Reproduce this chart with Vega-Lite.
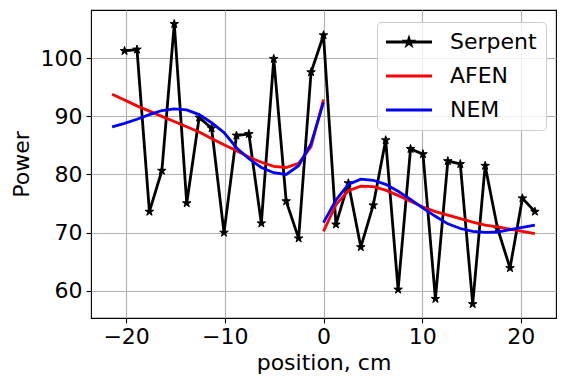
{
  "$schema": "https://vega.github.io/schema/vega-lite/v6.json",
  "width": 465,
  "height": 308,
  "autosize": {"type": "none"},
  "padding": {"left": 91, "top": 10, "right": 9, "bottom": 71},
  "background": "white",
  "datasets": {
    "serpent": [
      {"x": -20.16, "y": 101.26, "series": "Serpent"},
      {"x": -18.9, "y": 101.5, "series": "Serpent"},
      {"x": -17.64, "y": 73.6, "series": "Serpent"},
      {"x": -16.38, "y": 80.65, "series": "Serpent"},
      {"x": -15.12, "y": 105.9, "series": "Serpent"},
      {"x": -13.86, "y": 75.05, "series": "Serpent"},
      {"x": -12.6, "y": 89.8, "series": "Serpent"},
      {"x": -11.34, "y": 87.95, "series": "Serpent"},
      {"x": -10.08, "y": 70.0, "series": "Serpent"},
      {"x": -8.82, "y": 86.7, "series": "Serpent"},
      {"x": -7.56, "y": 86.97, "series": "Serpent"},
      {"x": -6.3, "y": 71.6, "series": "Serpent"},
      {"x": -5.04, "y": 99.9, "series": "Serpent"},
      {"x": -3.78, "y": 75.4, "series": "Serpent"},
      {"x": -2.52, "y": 69.0, "series": "Serpent"},
      {"x": -1.26, "y": 97.6, "series": "Serpent"},
      {"x": 0, "y": 103.96, "series": "Serpent"},
      {"x": 1.26, "y": 71.4, "series": "Serpent"},
      {"x": 2.52, "y": 78.5, "series": "Serpent"},
      {"x": 3.78, "y": 67.5, "series": "Serpent"},
      {"x": 5.04, "y": 74.7, "series": "Serpent"},
      {"x": 6.3, "y": 85.9, "series": "Serpent"},
      {"x": 7.56, "y": 60.2, "series": "Serpent"},
      {"x": 8.82, "y": 84.4, "series": "Serpent"},
      {"x": 10.08, "y": 83.5, "series": "Serpent"},
      {"x": 11.34, "y": 58.6, "series": "Serpent"},
      {"x": 12.6, "y": 82.3, "series": "Serpent"},
      {"x": 13.86, "y": 81.8, "series": "Serpent"},
      {"x": 15.12, "y": 57.7, "series": "Serpent"},
      {"x": 16.38, "y": 81.5, "series": "Serpent"},
      {"x": 17.64, "y": 70.7, "series": "Serpent"},
      {"x": 18.9, "y": 63.9, "series": "Serpent"},
      {"x": 20.16, "y": 75.9, "series": "Serpent"},
      {"x": 21.42, "y": 73.6, "series": "Serpent"}
    ],
    "models": [
      {"x": -21.42, "y": 93.8, "series": "AFEN", "seg": "L"},
      {"x": -20.16, "y": 92.8, "series": "AFEN", "seg": "L"},
      {"x": -18.9, "y": 91.8, "series": "AFEN", "seg": "L"},
      {"x": -17.64, "y": 90.9, "series": "AFEN", "seg": "L"},
      {"x": -16.38, "y": 90.0, "series": "AFEN", "seg": "L"},
      {"x": -15.12, "y": 89.1, "series": "AFEN", "seg": "L"},
      {"x": -13.86, "y": 88.2, "series": "AFEN", "seg": "L"},
      {"x": -12.6, "y": 87.3, "series": "AFEN", "seg": "L"},
      {"x": -11.34, "y": 86.2, "series": "AFEN", "seg": "L"},
      {"x": -10.08, "y": 85.1, "series": "AFEN", "seg": "L"},
      {"x": -8.82, "y": 84.1, "series": "AFEN", "seg": "L"},
      {"x": -7.56, "y": 83.0, "series": "AFEN", "seg": "L"},
      {"x": -6.3, "y": 82.1, "series": "AFEN", "seg": "L"},
      {"x": -5.04, "y": 81.4, "series": "AFEN", "seg": "L"},
      {"x": -3.78, "y": 81.2, "series": "AFEN", "seg": "L"},
      {"x": -2.52, "y": 81.9, "series": "AFEN", "seg": "L"},
      {"x": -1.26, "y": 84.8, "series": "AFEN", "seg": "L"},
      {"x": 0, "y": 92.9, "series": "AFEN", "seg": "L"},
      {"x": 0, "y": 70.2, "series": "AFEN", "seg": "R"},
      {"x": 1.26, "y": 74.8, "series": "AFEN", "seg": "R"},
      {"x": 2.52, "y": 77.2, "series": "AFEN", "seg": "R"},
      {"x": 3.78, "y": 78.0, "series": "AFEN", "seg": "R"},
      {"x": 5.04, "y": 77.9, "series": "AFEN", "seg": "R"},
      {"x": 6.3, "y": 77.3, "series": "AFEN", "seg": "R"},
      {"x": 7.56, "y": 76.4, "series": "AFEN", "seg": "R"},
      {"x": 8.82, "y": 75.4, "series": "AFEN", "seg": "R"},
      {"x": 10.08, "y": 74.4, "series": "AFEN", "seg": "R"},
      {"x": 11.34, "y": 73.6, "series": "AFEN", "seg": "R"},
      {"x": 12.6, "y": 73.0, "series": "AFEN", "seg": "R"},
      {"x": 13.86, "y": 72.4, "series": "AFEN", "seg": "R"},
      {"x": 15.12, "y": 71.8, "series": "AFEN", "seg": "R"},
      {"x": 16.38, "y": 71.3, "series": "AFEN", "seg": "R"},
      {"x": 17.64, "y": 71.0, "series": "AFEN", "seg": "R"},
      {"x": 18.9, "y": 70.6, "series": "AFEN", "seg": "R"},
      {"x": 20.16, "y": 70.2, "series": "AFEN", "seg": "R"},
      {"x": 21.42, "y": 69.8, "series": "AFEN", "seg": "R"},
      {"x": -21.42, "y": 88.2, "series": "NEM", "seg": "L"},
      {"x": -20.16, "y": 88.8, "series": "NEM", "seg": "L"},
      {"x": -18.9, "y": 89.5, "series": "NEM", "seg": "L"},
      {"x": -17.64, "y": 90.3, "series": "NEM", "seg": "L"},
      {"x": -16.38, "y": 91.0, "series": "NEM", "seg": "L"},
      {"x": -15.12, "y": 91.3, "series": "NEM", "seg": "L"},
      {"x": -13.86, "y": 91.1, "series": "NEM", "seg": "L"},
      {"x": -12.6, "y": 90.3, "series": "NEM", "seg": "L"},
      {"x": -11.34, "y": 88.9, "series": "NEM", "seg": "L"},
      {"x": -10.08, "y": 87.2, "series": "NEM", "seg": "L"},
      {"x": -8.82, "y": 84.6, "series": "NEM", "seg": "L"},
      {"x": -7.56, "y": 82.7, "series": "NEM", "seg": "L"},
      {"x": -6.3, "y": 81.2, "series": "NEM", "seg": "L"},
      {"x": -5.04, "y": 80.3, "series": "NEM", "seg": "L"},
      {"x": -3.78, "y": 80.0, "series": "NEM", "seg": "L"},
      {"x": -2.52, "y": 81.5, "series": "NEM", "seg": "L"},
      {"x": -1.26, "y": 85.3, "series": "NEM", "seg": "L"},
      {"x": 0, "y": 92.4, "series": "NEM", "seg": "L"},
      {"x": 0, "y": 71.7, "series": "NEM", "seg": "R"},
      {"x": 1.26, "y": 75.6, "series": "NEM", "seg": "R"},
      {"x": 2.52, "y": 78.3, "series": "NEM", "seg": "R"},
      {"x": 3.78, "y": 79.2, "series": "NEM", "seg": "R"},
      {"x": 5.04, "y": 79.0, "series": "NEM", "seg": "R"},
      {"x": 6.3, "y": 78.3, "series": "NEM", "seg": "R"},
      {"x": 7.56, "y": 77.1, "series": "NEM", "seg": "R"},
      {"x": 8.82, "y": 75.7, "series": "NEM", "seg": "R"},
      {"x": 10.08, "y": 74.2, "series": "NEM", "seg": "R"},
      {"x": 11.34, "y": 72.8, "series": "NEM", "seg": "R"},
      {"x": 12.6, "y": 71.5, "series": "NEM", "seg": "R"},
      {"x": 13.86, "y": 70.7, "series": "NEM", "seg": "R"},
      {"x": 15.12, "y": 70.2, "series": "NEM", "seg": "R"},
      {"x": 16.38, "y": 70.05, "series": "NEM", "seg": "R"},
      {"x": 17.64, "y": 70.1, "series": "NEM", "seg": "R"},
      {"x": 18.9, "y": 70.5, "series": "NEM", "seg": "R"},
      {"x": 20.16, "y": 70.9, "series": "NEM", "seg": "R"},
      {"x": 21.42, "y": 71.3, "series": "NEM", "seg": "R"}
    ]
  },
  "encoding": {
    "x": {
      "field": "x", "type": "quantitative",
      "scale": {"domain": [-23.56, 23.56], "nice": false, "zero": false},
      "axis": {"title": "position, cm", "values": [-20, -10, 0, 10, 20]}
    },
    "y": {
      "field": "y", "type": "quantitative",
      "scale": {"domain": [55.3, 108.3], "nice": false, "zero": false},
      "axis": {"title": "Power", "values": [60, 70, 80, 90, 100]}
    }
  },
  "layer": [
    {
      "data": {"name": "serpent"},
      "mark": {"type": "line", "strokeWidth": 2.8, "clip": true},
      "encoding": {
        "color": {
          "field": "series", "type": "nominal",
          "scale": {"domain": ["Serpent", "AFEN", "NEM"], "range": ["#000000", "#ff0000", "#0000ff"]},
          "legend": {
            "title": null,
            "orient": "none",
            "legendX": 286,
            "legendY": 12,
            "padding": 9,
            "rowPadding": 12,
            "fillColor": "rgba(255,255,255,0.8)",
            "strokeColor": "#cccccc",
            "cornerRadius": 4,
            "labelFontSize": 22,
            "labelFont": "DejaVu Sans",
            "labelColor": "black",
            "symbolSize": 339,
            "symbolStrokeWidth": 2.8,
            "symbolOffset": 12,
            "labelOffset": 30,
            "encode": {
              "symbols": {
                "update": {
                  "shape": {"signal": "datum.value === 'Serpent' ? 'M-2.5,0L2.5,0M0,-0.34L0.076,-0.105L0.323,-0.105L0.124,0.04L0.2,0.275L0,0.13L-0.2,0.275L-0.124,0.04L-0.323,-0.105L-0.076,-0.105Z' : 'M-2.5,0L2.5,0'"},
                  "fill": {"signal": "datum.value === 'Serpent' ? 'black' : 'transparent'"},
                  "strokeWidth": {"value": 2.8}
                }
              }
            }
          }
        }
      }
    },
    {
      "data": {"name": "serpent"},
      "mark": {
        "type": "point",
        "shape": "M0,-1L0.2245,-0.309L0.951,-0.309L0.3633,0.118L0.5878,0.809L0,0.382L-0.5878,0.809L-0.3633,0.118L-0.951,-0.309L-0.2245,-0.309Z",
        "size": 80,
        "filled": true,
        "fill": "black",
        "stroke": "black",
        "strokeWidth": 1,
        "opacity": 1
      },
      "encoding": {}
    },
    {
      "data": {"name": "models"},
      "mark": {"type": "line", "strokeWidth": 2.8, "clip": true},
      "encoding": {
        "color": {"field": "series", "type": "nominal"},
        "detail": {"field": "seg", "type": "nominal"}
      }
    }
  ],
  "config": {
    "font": "DejaVu Sans",
    "view": {"stroke": "black", "strokeWidth": 1.1},
    "axis": {
      "domain": false,
      "grid": true,
      "gridColor": "#b0b0b0",
      "gridWidth": 1.1,
      "gridOpacity": 1,
      "ticks": true,
      "tickColor": "black",
      "tickWidth": 1.1,
      "tickSize": 4.9,
      "labelFontSize": 22,
      "labelColor": "black",
      "labelFont": "DejaVu Sans",
      "labelPadding": 4,
      "titleFontSize": 22,
      "titleFontWeight": "normal",
      "titleColor": "black",
      "titleFont": "DejaVu Sans"
    },
    "axisX": {"titlePadding": 5},
    "axisY": {"titlePadding": 7}
  }
}
